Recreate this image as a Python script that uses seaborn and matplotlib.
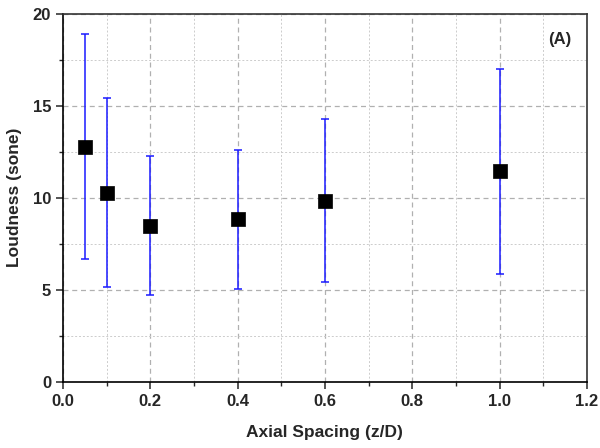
import matplotlib
matplotlib.use("Agg")
import matplotlib.pyplot as plt
import seaborn as sns
import pandas as pd
from matplotlib.ticker import MultipleLocator

spacing = [0.05, 0.1, 0.2, 0.4, 0.6, 1.0]
loudness = [12.78, 10.28, 8.48, 8.83, 9.84, 11.46]
upper = [18.9, 15.42, 12.28, 12.6, 14.29, 17.0]
lower = [6.65, 5.13, 4.71, 5.04, 5.42, 5.85]

df = pd.DataFrame({"x": spacing, "y": loudness})
err_lo = [l - lo for l, lo in zip(loudness, lower)]
err_hi = [u - l for l, u in zip(loudness, upper)]

sns.set_style("white")
plt.rcParams['font.family'] = ['Liberation Sans', 'DejaVu Sans']

fig = plt.figure(figsize=(6, 4.48), dpi=100)
ax = fig.add_axes([0.105, 0.148, 0.873, 0.821])

ax.errorbar(df["x"], df["y"], yerr=[err_lo, err_hi], fmt="none",
            ecolor="#1a1aff", elinewidth=1.1, capsize=3, capthick=1.1, zorder=2)
sns.scatterplot(data=df, x="x", y="y", marker="s", s=95, color="black",
                edgecolor="black", linewidth=0.5, ax=ax, zorder=3)

ax.set_xlim(0, 1.2)
ax.set_ylim(0, 20)
ax.xaxis.set_major_locator(MultipleLocator(0.2))
ax.xaxis.set_minor_locator(MultipleLocator(0.1))
ax.yaxis.set_major_locator(MultipleLocator(5))
ax.yaxis.set_minor_locator(MultipleLocator(2.5))

ax.grid(which="major", color="#b0b0b0", linestyle=(0, (4, 3)), linewidth=0.9)
ax.grid(which="minor", color="#cccccc", linestyle=(0, (2, 2)), linewidth=0.7)
ax.set_axisbelow(True)

for s in ax.spines.values():
    s.set_color("black")
    s.set_linewidth(1.2)
ax.spines["top"].set_color("#333333")
ax.spines["right"].set_color("#333333")

ax.tick_params(which="major", direction="out", length=5, width=1.1,
               bottom=True, left=True, labelsize=12)
ax.tick_params(which="minor", direction="out", length=3, width=1.0,
               bottom=True, left=True)
ax.set_xticklabels([f"{v:.1f}" for v in ax.get_xticks()], fontweight="bold")
ax.set_yticklabels([f"{int(v)}" for v in ax.get_yticks()], fontweight="bold")

ax.set_xlabel("Axial Spacing (z/D)", fontsize=12.5, fontweight="bold", labelpad=12)
ax.set_ylabel("Loudness (sone)", fontsize=12.5, fontweight="bold", labelpad=8)

ax.text(0.97, 0.93, "(A)", transform=ax.transAxes, ha="right", va="center",
        fontsize=12, fontweight="bold")

fig.savefig("out.png", dpi=100)
